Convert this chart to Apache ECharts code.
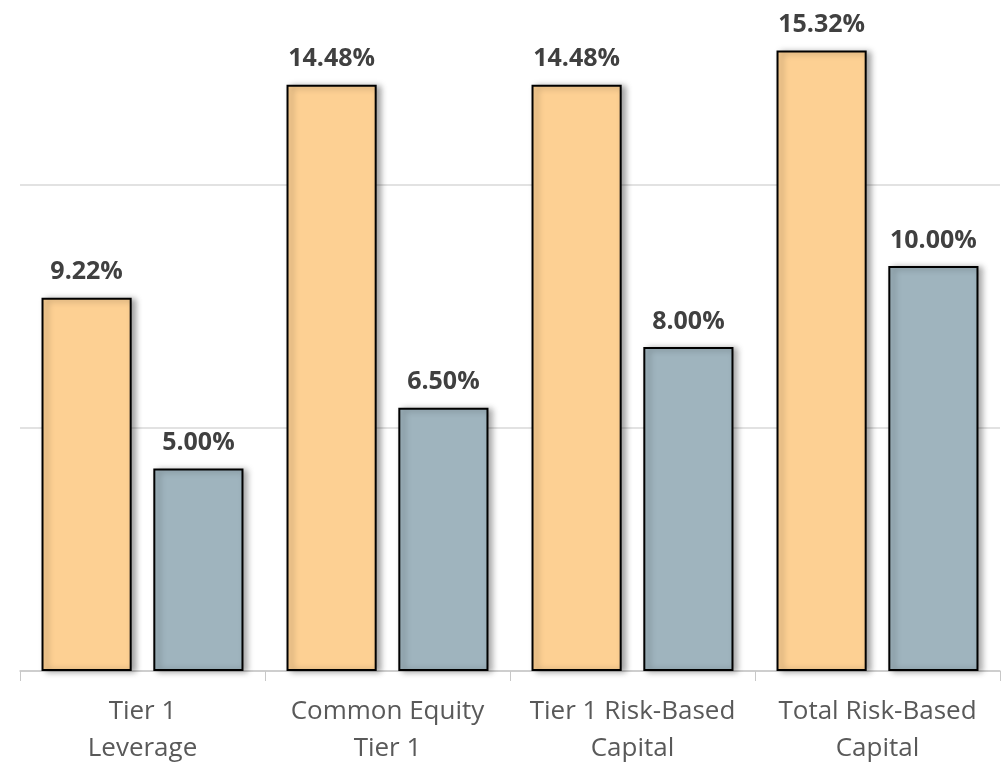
<!DOCTYPE html>
<html>
<head>
<meta charset="utf-8">
<script src="https://cdn.jsdelivr.net/npm/echarts@6/dist/echarts.min.js"></script>
<style>
  html, body { margin: 0; padding: 0; background: #fff; }
  #ct { width: 1002px; height: 765px; }
</style>
</head>
<body>
<div id="ct"></div>
<script>
const categories = ["Tier 1\nLeverage", "Common Equity\nTier 1", "Tier 1 Risk-Based\nCapital", "Total Risk-Based\nCapital"];
const actualValues = [9.22, 14.48, 14.48, 15.32];
const requiredValues = [5.00, 6.50, 8.00, 10.00];

const chart = echarts.init(document.getElementById("ct"));

const barShadow = {
  borderColor: "#000",
  borderWidth: 2,
  shadowColor: "rgba(0,0,0,0.35)",
  shadowBlur: 6,
  shadowOffsetX: 4,
  shadowOffsetY: 1
};

const labelStyle = {
  show: true,
  position: "top",
  distance: 13,
  fontFamily: "Open Sans",
  fontWeight: "bold",
  fontSize: 25,
  color: "#404040",
  formatter: p => p.value.toFixed(2) + "%"
};

const option = {
  animation: false,
  backgroundColor: "#fff",
  grid: {
    top: 0,
    left: 20,
    right: 2,
    bottom: 94,
    containLabel: false,
    outerBoundsMode: "none"
  },
  xAxis: {
    type: "category",
    data: categories,
    axisLine: { lineStyle: { color: "#c8c8c8", width: 1.5 } },
    axisTick: { show: true, length: 10, lineStyle: { color: "#c8c8c8" } },
    axisLabel: {
      interval: 0,
      hideOverlap: false,
      fontFamily: "Open Sans",
      fontSize: 26,
      color: "#595959",
      lineHeight: 37,
      margin: 22
    }
  },
  yAxis: {
    type: "value",
    min: 0,
    max: 16.57,
    interval: 6,
    axisLabel: { show: false },
    axisLine: { show: false },
    axisTick: { show: false },
    splitLine: { show: true, showMaxLine: false, lineStyle: { color: "#d9d9d9", width: 1.5 } }
  },
  series: [
    {
      name: "Actual",
      type: "bar",
      barWidth: "36.8%",
      barGap: "24%",
      data: actualValues,
      itemStyle: Object.assign({ color: "#fdd093" }, barShadow),
      label: labelStyle
    },
    {
      name: "Required",
      type: "bar",
      barWidth: "36.8%",
      data: requiredValues,
      itemStyle: Object.assign({ color: "#9fb4be" }, barShadow),
      label: labelStyle
    }
  ]
};

chart.setOption(option);
</script>
</body>
</html>
